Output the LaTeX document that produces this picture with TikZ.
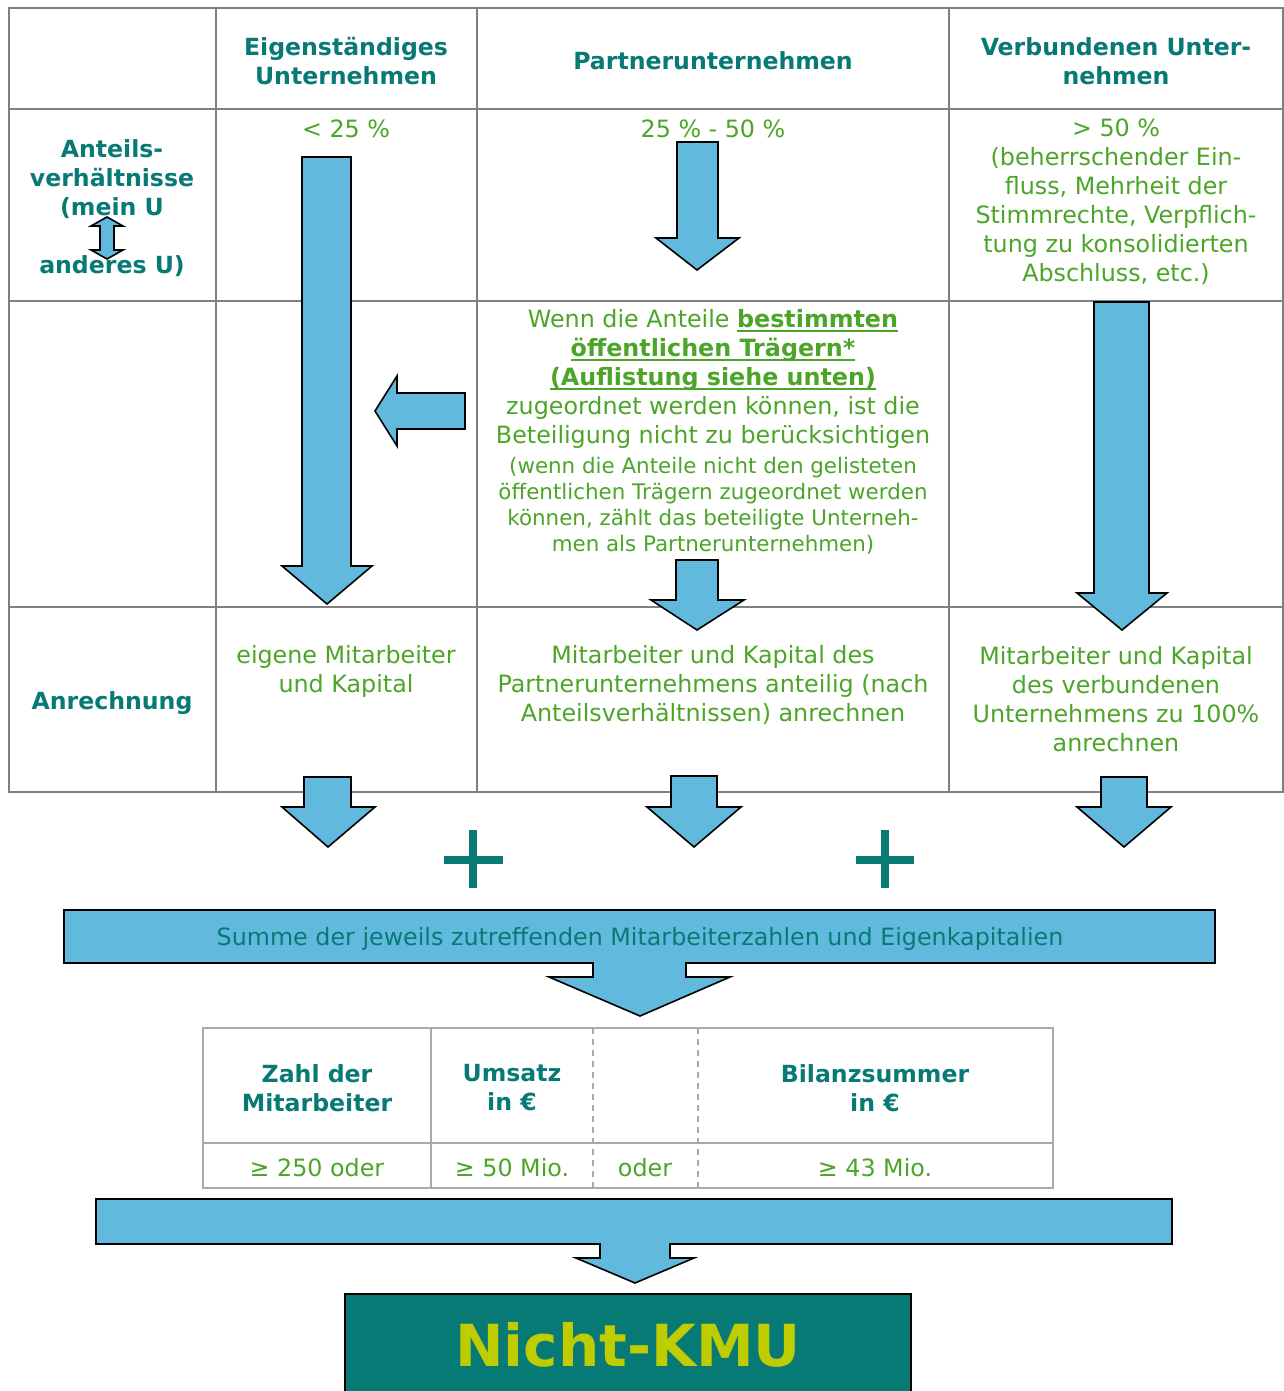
\documentclass[tikz,border=0pt]{standalone}
\usepackage{fontspec}
\setmainfont{DejaVu Sans}
\newlength\ullen
\newcommand\ulbf[1]{\settowidth\ullen{\bfseries #1}\rlap{\rule[-2.4pt]{\ullen}{0.9pt}}{\bfseries #1}}
\begin{document}
\begin{tikzpicture}[x=0.5pt,y=-0.5pt,
  gridline/.style={draw=gridColor,line width=1pt},
  kmuline/.style={draw=lightGrid,line width=0.9pt},
  blockarrow/.style={draw=black,fill=arrowColor,line width=0.8pt,line join=miter},
  plusbar/.style={draw=tealColor,line width=4pt},
  headtxt/.style={text=tealColor,font=\bfseries\fontsize{11.8}{14.5}\selectfont,align=center,inner sep=0pt},
  bodytxt/.style={text=greenColor,font=\fontsize{11.9}{14.5}\selectfont,align=center,inner sep=0pt},
  smalltxt/.style={text=greenColor,font=\fontsize{10.7}{13}\selectfont,align=center,inner sep=0pt}]
\definecolor{gridColor}{RGB}{128,128,128}
\definecolor{lightGrid}{RGB}{170,170,170}
\definecolor{tealColor}{RGB}{8,122,118}
\definecolor{greenColor}{RGB}{76,165,40}
\definecolor{arrowColor}{RGB}{98,185,222}
\definecolor{kmuText}{RGB}{190,204,0}
\path[use as bounding box,fill=white] (0,0) rectangle (1284,1391);

% table
\path[gridline] (9,8) rectangle (1283,792);
\path[gridline] (9,109) -- (1283,109);
\path[gridline] (9,301) -- (1283,301);
\path[gridline] (9,607) -- (1283,607);
\path[gridline] (216,8) -- (216,792);
\path[gridline] (477,8) -- (477,792);
\path[gridline] (949,8) -- (949,792);

\node[headtxt] (hdOwn) at (346,61) {Eigenständiges\\Unternehmen};
\node[headtxt] (hdPartner) at (713,61) {Partnerunternehmen};
\node[headtxt] (hdLinked) at (1116,61) {Verbundenen Unter-\\nehmen};

\node[headtxt] (shares) at (112,208) {Anteils-\\verhältnisse\\(mein U\\ \\anderes U)};
\path[blockarrow] (107,217) -- (123,226) -- (114,226) -- (114,250) -- (123,250) --
	(107,259) -- (91,250) -- (100,250) -- (100,226) -- (91,226) -- cycle;

\node[bodytxt] (pctOwn) at (346,129) {< 25 \%};
\node[bodytxt] (pctPartner) at (713,129) {25 \% - 50 \%};
\node[bodytxt] (pctLinked) at (1116,202) {> 50 \%\\(beherrschender Ein-\\fluss, Mehrheit der\\Stimmrechte, Verpflich-\\tung zu konsolidierten\\Abschluss, etc.)};

\node[bodytxt] (public) at (713,378.5) {Wenn die Anteile \ulbf{bestimmten}\\\ulbf{öffentlichen Trägern*}\\\ulbf{(Auflistung siehe unten)}\\zugeordnet werden können, ist die\\Beteiligung nicht zu berücksichtigen};
\node[smalltxt] (publicNote) at (713,506) {(wenn die Anteile nicht den gelisteten\\öffentlichen Trägern zugeordnet werden\\können, zählt das beteiligte Unterneh-\\men als Partnerunternehmen)};

\node[headtxt] (count) at (112,703) {Anrechnung};
\node[bodytxt] (cntOwn) at (346,671) {eigene Mitarbeiter\\und Kapital};
\node[bodytxt] (cntPartner) at (713,685.5) {Mitarbeiter und Kapital des\\Partnerunternehmens anteilig (nach\\Anteilsverhältnissen) anrechnen};
\node[bodytxt] (cntLinked) at (1116,699.5) {Mitarbeiter und Kapital\\des verbundenen\\Unternehmens zu 100\%\\anrechnen};

% arrows in the table
\path[blockarrow] (302,157) -- (351,157) -- (351,566) -- (372,566) -- (327,604) --
	(282,566) -- (302,566) -- cycle;
\path[blockarrow] (465,393) -- (465,429) -- (397,429) -- (397,446) -- (375,411) --
	(397,376) -- (397,393) -- cycle;
\path[blockarrow] (677,142) -- (718,142) -- (718,238) -- (739,238) -- (697,270) --
	(656,238) -- (677,238) -- cycle;
\path[blockarrow] (676,560) -- (718,560) -- (718,600) -- (744,600) -- (697,630) --
	(651,600) -- (676,600) -- cycle;
\path[blockarrow] (1094,302) -- (1149,302) -- (1149,593) -- (1167,593) -- (1122,630) --
	(1077,593) -- (1094,593) -- cycle;

% arrows below the table
\path[blockarrow] (304,777) -- (351,777) -- (351,807) -- (375,807) -- (328,847) --
	(282,807) -- (304,807) -- cycle;
\path[blockarrow] (671,776) -- (717,776) -- (717,807) -- (741,807) -- (694,847) --
	(647,807) -- (671,807) -- cycle;
\path[blockarrow] (1101,777) -- (1147,777) -- (1147,807) -- (1171,807) -- (1124,847) --
	(1077,807) -- (1101,807) -- cycle;

\path[plusbar] (444,859.5) -- (503,859.5);
\path[plusbar] (473,830) -- (473,888);
\path[plusbar] (856,859.5) -- (914,859.5);
\path[plusbar] (885,830) -- (885,888);

% sum banner
\path[blockarrow] (64,910) -- (1215,910) -- (1215,963) -- (686,963) -- (686,977) --
	(730,977) -- (640,1016) -- (549,977) -- (593,977) -- (593,963) -- (64,963) -- cycle;
\node[text=tealColor,font=\fontsize{11.9}{14.5}\selectfont,inner sep=0pt] (sum) at (640,939) {Summe der jeweils zutreffenden Mitarbeiterzahlen und Eigenkapitalien};

% thresholds
\path[kmuline] (203,1028) rectangle (1053,1188);
\path[kmuline] (203,1143) -- (1053,1143);
\path[kmuline] (431,1028) -- (431,1188);
\path[kmuline,dash pattern=on 3pt off 2.5pt] (593,1028) -- (593,1188);
\path[kmuline,dash pattern=on 3pt off 2.5pt] (698,1028) -- (698,1188);

\node[headtxt] (thStaff) at (317,1088) {Zahl der\\Mitarbeiter};
\node[headtxt] (thTurnover) at (512,1088) {Umsatz\\in €};
\node[headtxt] (thBalance) at (875,1088) {Bilanzsummer\\in €};
\node[bodytxt] (valStaff) at (317,1168) {≥ 250 oder};
\node[bodytxt] (valTurnover) at (512,1168) {≥ 50 Mio.};
\node[bodytxt] (valOr) at (645,1168) {oder};
\node[bodytxt] (valBalance) at (875,1168) {≥ 43 Mio.};

% result
\path[blockarrow] (96,1199) -- (1172,1199) -- (1172,1244) -- (670,1244) -- (670,1258) --
	(694,1258) -- (635,1283) -- (576,1258) -- (600,1258) -- (600,1244) -- (96,1244) -- cycle;
\node[draw=black,line width=0.8pt,fill=tealColor,text=kmuText,font=\bfseries\fontsize{29}{34}\selectfont,
	minimum width=283pt,minimum height=50.5pt,inner sep=0pt] (kmu) at (628,1344.5) {Nicht-KMU};
\end{tikzpicture}
\end{document}
